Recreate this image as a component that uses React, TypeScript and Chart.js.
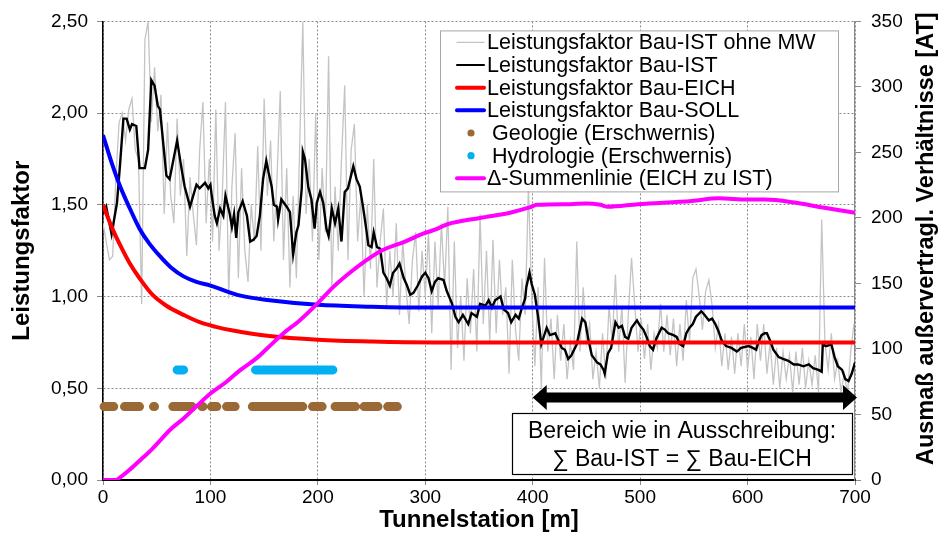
import React, { useEffect, useRef } from "react";
import { Chart, registerables } from "chart.js";

Chart.register(...registerables);

const FONT = "'Liberation Sans', Arial, sans-serif";

// ---- axes ----
const xMin = 0, xMax = 700, xStep = 100;
const yMin = 0, yMax = 2.5, yStep = 0.5;
const y1Min = 0, y1Max = 350, y1Step = 50;
const rightTitle = "Ausmaß außervertragl. Verhältnisse [AT]";

// ---- Leistungsfaktor Bau-IST ohne MW (every 3 m) ----
const grayStep = 3;
const grayValues = [
  1.40, 1.30, 1.20, 1.22, 1.65, 1.95, 2.00, 1.85, 2.02, 2.08,
  1.80, 1.75, 0.96, 2.40, 2.50, 1.95, 2.25, 1.90, 2.10, 1.45,
  1.95, 1.55, 1.40, 1.97, 1.55, 1.75, 1.22, 1.65, 1.45, 1.28,
  1.80, 2.06, 1.40, 1.75, 1.30, 2.02, 1.25, 1.55, 2.06, 0.99,
  1.60, 1.89, 1.10, 1.70, 1.25, 1.08, 1.50, 1.30, 1.82, 1.25,
  2.08, 1.55, 1.85, 1.30, 1.65, 2.12, 1.20, 1.70, 1.05, 1.55,
  1.10, 1.80, 2.50, 1.45, 1.75, 1.30, 2.00, 1.20, 1.70, 1.35,
  2.31, 1.05, 1.60, 1.25, 1.75, 2.15, 1.20, 1.80, 1.94, 1.30,
  1.55, 1.00, 1.50, 1.15, 1.75, 1.05, 1.30, 1.48, 0.95, 1.25,
  1.00, 1.40, 0.90, 1.30, 1.05, 0.85, 1.20, 1.35, 0.92, 1.25,
  1.00, 1.35, 0.80, 1.30, 0.95, 1.40, 1.05, 1.49, 0.60, 1.30,
  0.72, 1.00, 0.65, 1.10, 0.80, 1.15, 0.70, 1.45, 0.85, 1.25,
  0.75, 1.31, 0.80, 1.20, 0.90, 1.05, 0.58, 1.20, 0.82, 0.65,
  1.10, 0.90, 1.60, 1.00, 0.62, 1.05, 0.50, 1.21, 0.70, 0.88,
  0.55, 0.90, 0.65, 0.85, 0.55, 0.75, 0.60, 1.30, 0.70, 1.05,
  0.75, 0.85, 0.55, 0.70, 0.50, 0.80, 0.55, 0.95, 0.75, 1.12,
  0.70, 0.95, 0.53, 0.90, 1.21, 0.95, 0.70, 0.88, 0.66, 0.85,
  0.60, 0.80, 0.72, 0.96, 0.70, 0.90, 0.68, 0.88, 0.62, 0.85,
  0.65, 0.98, 0.75, 1.10, 1.15, 1.00, 0.82, 1.03, 1.09, 0.95,
  0.72, 0.85, 0.62, 0.80, 0.60, 0.78, 0.58, 0.80, 0.62, 0.85,
  0.60, 0.78, 0.55, 0.85, 0.65, 0.85, 0.58, 0.75, 0.52, 0.72,
  0.50, 0.70, 0.55, 0.68, 0.48, 0.70, 0.52, 0.72, 0.50, 0.65,
  0.52, 0.68, 0.48, 1.42, 0.75, 0.60, 0.80, 0.55, 0.65, 0.48,
  0.58, 0.47, 0.70, 0.85,
];

// ---- Leistungsfaktor Bau-IST (moving average) ----
const istStations = [
  0, 3, 8, 13, 16, 19, 22, 25, 27, 31, 34, 39, 42, 45, 48, 51, 53, 59, 62, 65,
  69, 73, 76, 81, 84, 87, 90, 95, 98, 100, 101, 104, 106, 109, 112, 114, 118, 120, 122, 124,
  126, 130, 134, 137, 140, 143, 146, 149, 152, 154, 157, 159, 162, 163, 166, 171, 174, 177, 180, 182,
  185, 186, 188, 191, 194, 197, 199, 202, 205, 208, 210, 213, 216, 219, 222, 225, 228, 233, 236, 239,
  242, 245, 247, 250, 252, 255, 258, 261, 264, 267, 270, 273, 276, 280, 283, 286, 289, 293, 297, 300,
  303, 306, 309, 312, 317, 320, 325, 328, 331, 335, 340, 343, 348, 351, 356, 359, 362, 365, 370, 373,
  377, 380, 384, 387, 390, 393, 394, 397, 399, 402, 405, 408, 413, 416, 421, 424, 427, 430, 433, 436,
  441, 446, 449, 452, 455, 460, 463, 466, 467, 470, 473, 477, 480, 483, 486, 489, 492, 497, 500, 503,
  506, 509, 512, 515, 520, 523, 526, 531, 534, 537, 540, 543, 546, 549, 552, 557, 560, 564, 567, 570,
  573, 576, 580, 585, 590, 594, 601, 605, 608, 610, 613, 616, 618, 621, 624, 629, 633, 638, 643, 647,
  652, 657, 661, 666, 669, 670, 673, 678, 681, 684, 688, 691, 694, 697, 700,
];
const istValues = [
  1.45, 1.49, 1.34, 1.51, 1.73, 1.97, 1.97, 1.91, 1.94, 1.93, 1.70, 1.70, 1.80, 2.18, 2.15, 2.04, 2.02, 1.66, 1.64, 1.73,
  1.85, 1.70, 1.60, 1.49, 1.55, 1.61, 1.59, 1.62, 1.59, 1.61, 1.56, 1.44, 1.40, 1.48, 1.44, 1.55, 1.45, 1.38, 1.45, 1.32,
  1.46, 1.52, 1.44, 1.30, 1.31, 1.33, 1.44, 1.64, 1.74, 1.68, 1.60, 1.50, 1.49, 1.42, 1.53, 1.49, 1.46, 1.23, 1.35, 1.39,
  1.59, 1.79, 1.75, 1.60, 1.53, 1.37, 1.51, 1.57, 1.51, 1.37, 1.33, 1.48, 1.40, 1.48, 1.30, 1.57, 1.59, 1.71, 1.64, 1.60,
  1.49, 1.37, 1.28, 1.27, 1.35, 1.27, 1.26, 1.13, 1.10, 1.06, 1.13, 1.15, 1.18, 1.10, 1.06, 1.01, 1.02, 1.06, 1.11, 1.13,
  1.10, 1.03, 1.08, 1.10, 1.09, 1.03, 0.96, 0.89, 0.86, 0.90, 0.85, 0.91, 0.89, 0.96, 0.95, 0.98, 0.94, 0.98, 1.00, 0.93,
  0.91, 0.86, 0.90, 0.88, 0.94, 0.99, 1.05, 1.13, 1.07, 1.01, 0.89, 0.74, 0.83, 0.79, 0.80, 0.76, 0.72, 0.71, 0.66, 0.68,
  0.74, 0.88, 0.86, 0.76, 0.68, 0.64, 0.63, 0.60, 0.58, 0.69, 0.72, 0.86, 0.83, 0.84, 0.78, 0.77, 0.83, 0.87, 0.84, 0.82,
  0.78, 0.73, 0.71, 0.77, 0.83, 0.82, 0.80, 0.79, 0.78, 0.74, 0.73, 0.80, 0.83, 0.85, 0.89, 0.92, 0.90, 0.87, 0.88, 0.85,
  0.81, 0.76, 0.73, 0.72, 0.70, 0.72, 0.73, 0.72, 0.71, 0.75, 0.79, 0.80, 0.80, 0.76, 0.71, 0.67, 0.66, 0.65, 0.63, 0.63,
  0.62, 0.63, 0.61, 0.60, 0.59, 0.74, 0.73, 0.74, 0.67, 0.62, 0.60, 0.55, 0.54, 0.58, 0.64,
];

// ---- Leistungsfaktor Bau-EICH ----
const eichStations = [0, 8, 16, 25, 34, 46, 59, 75, 90, 105, 121, 155, 200, 250, 309, 700];
const eichValues = [1.50, 1.38, 1.28, 1.18, 1.10, 1.01, 0.95, 0.90, 0.86, 0.835, 0.815, 0.785, 0.765, 0.755, 0.75, 0.75];

// ---- Leistungsfaktor Bau-SOLL ----
const sollStations = [0, 8, 16, 25, 34, 43, 53, 63, 75, 87, 100, 128, 155, 200, 250, 300, 700];
const sollValues = [1.88, 1.73, 1.60, 1.48, 1.37, 1.29, 1.22, 1.16, 1.11, 1.08, 1.06, 1.005, 0.98, 0.955, 0.945, 0.94, 0.94];

// ---- Δ-Summenlinie (right axis) ----
const deltaStations = [
  0, 12, 16, 25, 37, 45, 53, 62, 75, 88, 100, 115, 128, 143, 151, 168, 182, 200, 214, 228,
  244, 259, 281, 298, 309, 320, 351, 379, 397, 404, 435, 450, 463, 470, 498, 548, 573, 600, 616, 642,
  670, 700,
];
const deltaValues = [
  0, 0, 2, 8, 17, 23, 30, 38, 47, 57, 66, 75, 84, 93, 99, 112, 121, 135, 147, 157,
  167, 175, 182, 188, 191, 195, 200, 204, 208, 210, 210.5, 211, 210, 208.5, 210.5, 213, 215, 214, 214, 212,
  208, 204,
];

// ---- Erschwernisse (segments of stations) ----
const geoLevel = 0.4;
const geoSegments = [
  [1, 10], [20, 34], [47, 48], [65, 83], [92, 93], [101, 106], [115, 123],
  [139, 186], [195, 204], [216, 235], [243, 256], [265, 274],
];
const hydroLevel = 0.6;
const hydroSegments = [[69, 75], [142, 214]];

// ---- annotation ----
const arrowRange = [400, 700];
const arrowLevel = 0.45;
const noteLines = ["Bereich wie in Ausschreibung:", "∑ Bau-IST = ∑ Bau-EICH"];

const legendItems = [
  { label: "Leistungsfaktor Bau-IST ohne MW", color: "#c4c4c4", kind: "line", w: 1.3 },
  { label: "Leistungsfaktor Bau-IST", color: "#000000", kind: "line", w: 2 },
  { label: "Leistungsfaktor Bau-EICH", color: "#ff0000", kind: "line", w: 4 },
  { label: "Leistungsfaktor Bau-SOLL", color: "#0000ff", kind: "line", w: 4 },
  { label: "Geologie (Erschwernis)", color: "#9a6935", kind: "dot", w: 4 },
  { label: "Hydrologie (Erschwernis)", color: "#00b0f0", kind: "dot", w: 4 },
  { label: "Δ-Summenlinie (EICH zu IST)", color: "#ff00ff", kind: "line", w: 4 },
];

function pts(st: number[], vals: number[]) {
  return st.map((s, i) => ({ x: s, y: vals[i] }));
}
function segPts(segs: number[][], level: number) {
  const out: any[] = [];
  segs.forEach(([a, b]) => {
    out.push({ x: a, y: level });
    out.push({ x: b, y: level });
    out.push({ x: b + 0.5, y: null });
  });
  return out;
}

const overlayPlugin = {
  id: "overlay",
  afterDatasetsDraw(chart: any) {
    const { ctx, chartArea } = chart;
    const xs = chart.scales.x;
    const ys = chart.scales.y;
    ctx.save();
    // double arrow
    const x1 = xs.getPixelForValue(arrowRange[0]);
    const x2 = xs.getPixelForValue(arrowRange[1]) + 2;
    const ay = ys.getPixelForValue(arrowLevel);
    const head = 14, hh = 12.5, sh = 5;
    ctx.fillStyle = "#000";
    ctx.beginPath();
    ctx.moveTo(x1, ay);
    ctx.lineTo(x1 + head, ay - hh);
    ctx.lineTo(x1 + head, ay - sh);
    ctx.lineTo(x2 - head, ay - sh);
    ctx.lineTo(x2 - head, ay - hh);
    ctx.lineTo(x2, ay);
    ctx.lineTo(x2 - head, ay + hh);
    ctx.lineTo(x2 - head, ay + sh);
    ctx.lineTo(x1 + head, ay + sh);
    ctx.lineTo(x1 + head, ay + hh);
    ctx.closePath();
    ctx.fill();

    // note box
    const bw = 340, bh = 61;
    const bx = chartArea.right - 343;
    const by = chartArea.bottom - 67;
    ctx.fillStyle = "#fff";
    ctx.fillRect(bx, by, bw, bh);
    ctx.strokeStyle = "#000";
    ctx.lineWidth = 1.2;
    ctx.strokeRect(bx + 0.5, by + 0.5, bw, bh);
    ctx.fillStyle = "#000";
    ctx.font = `23px ${FONT}`;
    ctx.textAlign = "center";
    ctx.textBaseline = "alphabetic";
    ctx.fillText(noteLines[0], bx + bw / 2, by + 25);
    ctx.fillText(noteLines[1], bx + bw / 2, by + 53);

    // legend
    const lx = chartArea.left + 337;
    const ly = chartArea.top + 9;
    const lw = 398, lh = 161;
    ctx.fillStyle = "#fff";
    ctx.fillRect(lx, ly, lw, lh);
    ctx.strokeStyle = "#a6a6a6";
    ctx.lineWidth = 1;
    ctx.strokeRect(lx + 0.5, ly + 0.5, lw, lh);
    ctx.font = `21.5px ${FONT}`;
    ctx.textAlign = "left";
    ctx.textBaseline = "middle";
    legendItems.forEach((it, i) => {
      const yy = ly + 12 + i * 22.65;
      if (it.kind === "line") {
        ctx.strokeStyle = it.color;
        ctx.lineWidth = it.w;
        ctx.lineCap = "round";
        ctx.beginPath();
        ctx.moveTo(lx + 17, yy);
        ctx.lineTo(lx + 44, yy);
        ctx.stroke();
        ctx.fillStyle = "#000";
        ctx.fillText(it.label, lx + 47, yy + 1);
      } else {
        ctx.fillStyle = it.color;
        ctx.beginPath();
        ctx.arc(lx + 31, yy, 3.6, 0, Math.PI * 2);
        ctx.fill();
        ctx.fillStyle = "#000";
        ctx.fillText(it.label, lx + 52, yy + 1);
      }
    });

    // right axis title (reads bottom to top)
    ctx.translate(chart.width - 11, chartArea.top + (chartArea.bottom - chartArea.top) / 2 - 12);
    ctx.rotate(-Math.PI / 2);
    ctx.font = `bold 23.5px ${FONT}`;
    ctx.textAlign = "center";
    ctx.textBaseline = "middle";
    ctx.fillStyle = "#000";
    ctx.fillText(rightTitle, 0, 0);
    ctx.restore();
  },
};

export default function App() {
  const ref = useRef<HTMLCanvasElement | null>(null);
  useEffect(() => {
    if (!ref.current) return;
    const grid = "#8a8a8a";
    const chart = new Chart(ref.current, {
      type: "line",
      data: {
        datasets: [
          {
            label: "Δ-Summenlinie (EICH zu IST)",
            data: pts(deltaStations, deltaValues),
            yAxisID: "y1",
            borderColor: "#ff00ff",
            borderWidth: 4,
            pointRadius: 0,
            cubicInterpolationMode: "monotone",
          },
          {
            label: "Leistungsfaktor Bau-SOLL",
            data: pts(sollStations, sollValues),
            borderColor: "#0000ff",
            borderWidth: 4,
            pointRadius: 0,
            cubicInterpolationMode: "monotone",
          },
          {
            label: "Leistungsfaktor Bau-EICH",
            data: pts(eichStations, eichValues),
            borderColor: "#ff0000",
            borderWidth: 4,
            pointRadius: 0,
            cubicInterpolationMode: "monotone",
          },
          {
            label: "Hydrologie (Erschwernis)",
            data: segPts(hydroSegments, hydroLevel),
            borderColor: "#00b0f0",
            borderWidth: 9,
            borderCapStyle: "round",
            pointRadius: 0,
            spanGaps: false,
            clip: false,
          },
          {
            label: "Geologie (Erschwernis)",
            data: segPts(geoSegments, geoLevel),
            borderColor: "#9a6935",
            borderWidth: 9,
            borderCapStyle: "round",
            pointRadius: 0,
            spanGaps: false,
            clip: false,
          },
          {
            label: "Leistungsfaktor Bau-IST",
            data: pts(istStations, istValues),
            borderColor: "#000000",
            borderWidth: 2.4,
            pointRadius: 0,
          },
          {
            label: "Leistungsfaktor Bau-IST ohne MW",
            data: grayValues.map((v, i) => ({ x: i * grayStep, y: v })),
            borderColor: "#c4c4c4",
            borderWidth: 1.3,
            pointRadius: 0,
          },
        ] as any,
      },
      options: {
        responsive: false,
        animation: false,
        devicePixelRatio: 1,
        parsing: false as any,
        normalized: true,
        layout: { padding: { top: 20, left: 0, right: 0, bottom: 0 } },
        plugins: { legend: { display: false }, tooltip: { enabled: false } },
        scales: {
          x: {
            type: "linear",
            min: xMin,
            max: xMax,
            afterFit: (s: any) => { s.height = 66; },
            ticks: {
              stepSize: xStep,
              color: "#000",
              font: { family: FONT, size: 19 },
              padding: 1,
              maxRotation: 0,
            },
            grid: { color: grid, lineWidth: 1, tickLength: 5, tickColor: grid, tickBorderDash: [] },
            border: { color: "#000", width: 2, dash: [2, 2] },
            title: {
              display: true,
              text: "Tunnelstation [m]",
              color: "#000",
              font: { family: FONT, size: 24, weight: "bold" },
              padding: { top: 0, bottom: 11 },
            },
          },
          y: {
            type: "linear",
            position: "left",
            min: yMin,
            max: yMax,
            afterFit: (s: any) => { s.width = 103; },
            ticks: {
              stepSize: yStep,
              color: "#000",
              font: { family: FONT, size: 19 },
              padding: 9,
              callback: (v: any) => Number(v).toFixed(2).replace(".", ","),
            },
            grid: { color: grid, lineWidth: 1, tickLength: 6, tickColor: grid, tickBorderDash: [] },
            border: { color: "#000", width: 1.5, dash: [2, 2] },
            title: {
              display: true,
              text: "Leistungsfaktor",
              color: "#000",
              font: { family: FONT, size: 24, weight: "bold" },
              padding: { top: 8, bottom: 0 },
            },
          },
          y1: {
            type: "linear",
            position: "right",
            min: y1Min,
            max: y1Max,
            afterFit: (s: any) => { s.width = 83; },
            ticks: {
              stepSize: y1Step,
              color: "#000",
              font: { family: FONT, size: 19 },
              padding: 10,
            },
            grid: { drawOnChartArea: false, color: grid, tickLength: 6, tickColor: grid, tickBorderDash: [] },
            border: { color: "#8a8a8a", width: 1.2 },
            title: { display: false },
          },
        },
      } as any,
      plugins: [overlayPlugin],
    });
    return () => chart.destroy();
  }, []);
  return (
    <div style={{ position: "fixed", left: 0, top: 0, width: 938, height: 546, background: "#fff" }}>
      <canvas ref={ref} width={938} height={546} style={{ display: "block" }} />
    </div>
  );
}
